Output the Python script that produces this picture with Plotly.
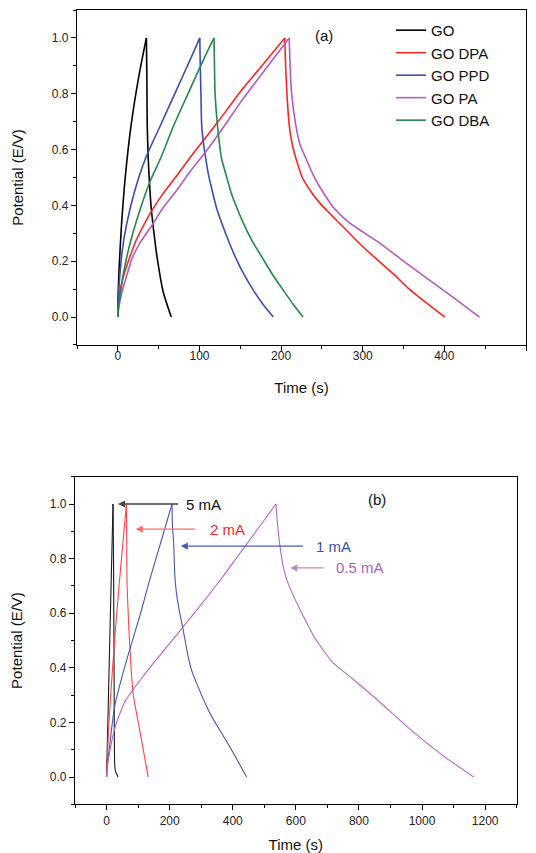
import plotly.graph_objs as go

# (a) charge-discharge curves of the different electrodes
go_t = [0, 0.4, 1.5, 4.5, 9.4, 16.4, 26.2, 35.0, 35.6, 36.0, 37.2, 38.8, 40.9, 44.3, 48.3, 55.6, 65.5]
go_v = [0, 0.08, 0.17, 0.33, 0.51, 0.69, 0.87, 1.0, 0.85, 0.69, 0.57, 0.48, 0.39, 0.30, 0.21, 0.09, 0.0]

dpa_t = [0, 1, 3, 7.4, 14, 21.7, 30, 40.9, 56, 72.8, 89.2, 103.5, 122, 150.6, 178, 204.5,
         205.5, 207, 209.9, 213.5, 218.1, 226, 236.5, 247, 261, 277, 293.8, 316, 338.8, 357, 375.6, 400.5]
dpa_v = [0, 0.06, 0.1, 0.151, 0.21, 0.27, 0.32, 0.378, 0.445, 0.509, 0.574, 0.628, 0.697, 0.809, 0.906, 1.0,
         0.9, 0.807, 0.688, 0.62, 0.569, 0.5, 0.45, 0.41, 0.367, 0.32, 0.27, 0.21, 0.151, 0.10, 0.056, 0.0]

ppd_t = [0, 0.8, 2.5, 5.5, 10.6, 20.4, 34, 52.4, 70.8, 89.2, 100.4,
         101, 101.8, 102.7, 105, 107.6, 111, 115.8, 121, 128, 136, 144.4, 155, 166.9, 178, 190.5]
ppd_v = [0, 0.08, 0.151, 0.24, 0.33, 0.449, 0.569, 0.688, 0.807, 0.926, 1.0,
         0.9, 0.8, 0.688, 0.62, 0.569, 0.51, 0.45, 0.39, 0.331, 0.27, 0.212, 0.15, 0.092, 0.045, 0.0]

pa_t = [0, 1, 2.5, 5.3, 10, 17.6, 28, 42.1, 55, 70.8, 89.2, 107.6, 130, 150.5, 180, 209.9,
        211, 212.7, 218, 223, 230.3, 240, 250.8, 265, 281.5, 300, 318.3, 347, 383.8, 410, 443]
pa_v = [0, 0.03, 0.055, 0.092, 0.14, 0.211, 0.27, 0.33, 0.39, 0.449, 0.524, 0.592, 0.683, 0.77, 0.885, 1.0,
        0.9, 0.807, 0.688, 0.62, 0.569, 0.505, 0.45, 0.39, 0.343, 0.305, 0.27, 0.207, 0.128, 0.072, 0.0]

dba_t = [0, 1, 2.5, 6.5, 15.5, 27.8, 39.3, 52.4, 68.7, 87, 105.5, 117.8,
         118.4, 119, 122, 127, 132.5, 138.3, 146, 154.6, 165, 177.1, 190, 203.7, 215, 226.8]
dba_v = [0, 0.04, 0.068, 0.151, 0.27, 0.39, 0.485, 0.569, 0.688, 0.807, 0.926, 1.0,
         0.9, 0.807, 0.688, 0.569, 0.51, 0.45, 0.39, 0.331, 0.27, 0.212, 0.15, 0.092, 0.045, 0.0]

# (b) one electrode at different currents
ma5_t = [0, 10, 20.5, 21, 22.5, 24.5, 25.4, 26.5, 28.6, 32, 36]
ma5_v = [0, 0.49, 1.0, 0.95, 0.72, 0.2, 0.06, 0.035, 0.02, 0.012, 0.0]

ma2_t = [0, 7.4, 20.1, 30.7, 41.3, 52, 63, 64, 64.7, 67.5, 71, 77, 83.8, 94, 105, 132]
ma2_v = [0, 0.197, 0.417, 0.576, 0.722, 0.86, 1.0, 0.86, 0.722, 0.63, 0.539, 0.41, 0.307, 0.24, 0.173, 0.0]

ma1_t = [0, 3, 9.5, 25.4, 52, 73.2, 105, 136.8, 172, 207.5,
         209, 213, 216.3, 222, 232, 242.8, 258.7, 270, 285.2, 327.6, 391.2, 444]
ma1_v = [0, 0.05, 0.112, 0.258, 0.38, 0.466, 0.588, 0.722, 0.86, 1.0,
         0.92, 0.85, 0.74, 0.67, 0.6, 0.539, 0.441, 0.39, 0.344, 0.234, 0.11, 0.0]

ma05_t = [0, 3, 9.5, 20, 30.7, 45, 60, 83.8, 110, 136.8, 189.8, 242.8, 295.8, 359.4, 407, 470, 537,
          541.8, 550, 560, 571.5, 590, 613.9, 660, 714.5, 779.6, 855.8, 964.6, 1073, 1164]
ma05_v = [0, 0.04, 0.088, 0.15, 0.197, 0.24, 0.28, 0.32, 0.36, 0.4, 0.475, 0.55, 0.626, 0.72, 0.795, 0.894, 1.0,
          0.929, 0.844, 0.77, 0.722, 0.67, 0.612, 0.51, 0.423, 0.36, 0.285, 0.173, 0.073, 0.0]

# arrow labels in (b)
current_labels = ['5 mA', '2 mA', '1 mA', '0.5 mA']
arrow_tail = [232, 285, 627, 693]
arrow_head = [36, 92, 235, 582]
arrow_y = [1.0, 0.908, 0.846, 0.766]
label_x = [245, 322, 656, 720]

FONT = 'Liberation Sans, Arial, sans-serif'
text_colors = ['#111111', '#f22a2a', '#3d4fae', '#b05cbc']
arrow_colors = ['#444444', '#ff6a6a', '#4a5ab8', '#c586cf']

# page has an 8px body margin, so the figure is 8px smaller than the window
W, H = 528, 845

fig = go.Figure()

def add_curve(t, v, color, width, xa, ya, name=None):
    # split at the top so the spline keeps the sharp turn
    k = v.index(max(v))
    for i, (tt, vv) in enumerate([(t[:k + 1], v[:k + 1]), (t[k:], v[k:])]):
        fig.add_trace(go.Scatter(x=tt, y=vv, mode='lines', name=name,
                                 legendgroup=name, showlegend=(name is not None and i == 0),
                                 line=dict(color=color, width=width, shape='spline', smoothing=0.6),
                                 xaxis=xa, yaxis=ya))

series_a = [('GO', go_t, go_v, '#000000'),
            ('GO DPA', dpa_t, dpa_v, '#ff2424'),
            ('GO PPD', ppd_t, ppd_v, '#3c4fae'),
            ('GO PA', pa_t, pa_v, '#b35cbf'),
            ('GO DBA', dba_t, dba_v, '#23884a')]
for name, t, v, c in series_a:
    add_curve(t, v, c, 1.6, 'x', 'y', name)

series_b = [(ma5_t, ma5_v, '#1a1a1a'),
            (ma2_t, ma2_v, '#ff4545'),
            (ma1_t, ma1_v, '#4656b4'),
            (ma05_t, ma05_v, '#b866c4')]
for t, v, c in series_b:
    add_curve(t, v, c, 1.1, 'x2', 'y2')

def axis(domain, anchor, rng, dtick, minor, title, standoff, lab_off=0):
    return dict(domain=domain, anchor=anchor, range=rng, dtick=dtick,
                showline=True, mirror=True, linecolor='black', linewidth=1.3,
                ticks='outside', ticklen=5, tickwidth=1.1, tickcolor='black',
                minor=dict(dtick=minor, ticks='outside', ticklen=3, tickwidth=1.1, tickcolor='black'),
                showgrid=False, zeroline=False, ticklabelstandoff=lab_off,
                tickfont=dict(family=FONT, size=12, color='#222222'),
                title=dict(text=title, font=dict(family=FONT, size=15, color='#111111'), standoff=standoff))

fig.update_layout(
    width=W, height=H,
    margin=dict(l=0, r=0, t=0, b=0),
    font=dict(family=FONT, size=15, color='#111111'),
    paper_bgcolor='white', plot_bgcolor='white',
    xaxis=axis([0.1307, 0.9811], 'y', [-50, 500], 100, 50, 'Time (s)', 20, -6),
    yaxis=axis([0.6012, 0.9976], 'x', [-0.1, 1.1], 0.2, 0.1, 'Potential (E/V)', 24),
    xaxis2=axis([0.1269, 0.9634], 'y2', [-100, 1300], 200, 100, 'Time (s)', 16),
    yaxis2=axis([0.0576, 0.4453], 'x2', [-0.1, 1.1], 0.2, 0.1, 'Potential (E/V)', 24),
    legend=dict(x=0.7254, y=0.993, xanchor='left', yanchor='top', bgcolor='rgba(0,0,0,0)',
                font=dict(family=FONT, size=15, color='#111111'), tracegroupgap=0),
    showlegend=True,
)
fig.update_yaxes(tickformat='.1f')

fig.add_annotation(x=252, y=1.01, xref='x', yref='y', text='(a)', showarrow=False,
                   font=dict(family=FONT, size=15, color='#111111'))
fig.add_annotation(x=858, y=1.015, xref='x2', yref='y2', text='(b)', showarrow=False,
                   font=dict(family=FONT, size=15, color='#111111'))

for i in range(len(current_labels)):
    fig.add_annotation(x=arrow_head[i], y=arrow_y[i], ax=arrow_tail[i], ay=arrow_y[i],
                       xref='x2', yref='y2', axref='x2', ayref='y2', text='',
                       showarrow=True, arrowhead=2, arrowsize=1.1, arrowwidth=1.3,
                       arrowcolor=arrow_colors[i])
    fig.add_annotation(x=label_x[i], y=arrow_y[i], xref='x2', yref='y2', text=current_labels[i],
                       showarrow=False, xanchor='left',
                       font=dict(family=FONT, size=15, color=text_colors[i]))

fig.write_html("out.html", config={'displayModeBar': False})
